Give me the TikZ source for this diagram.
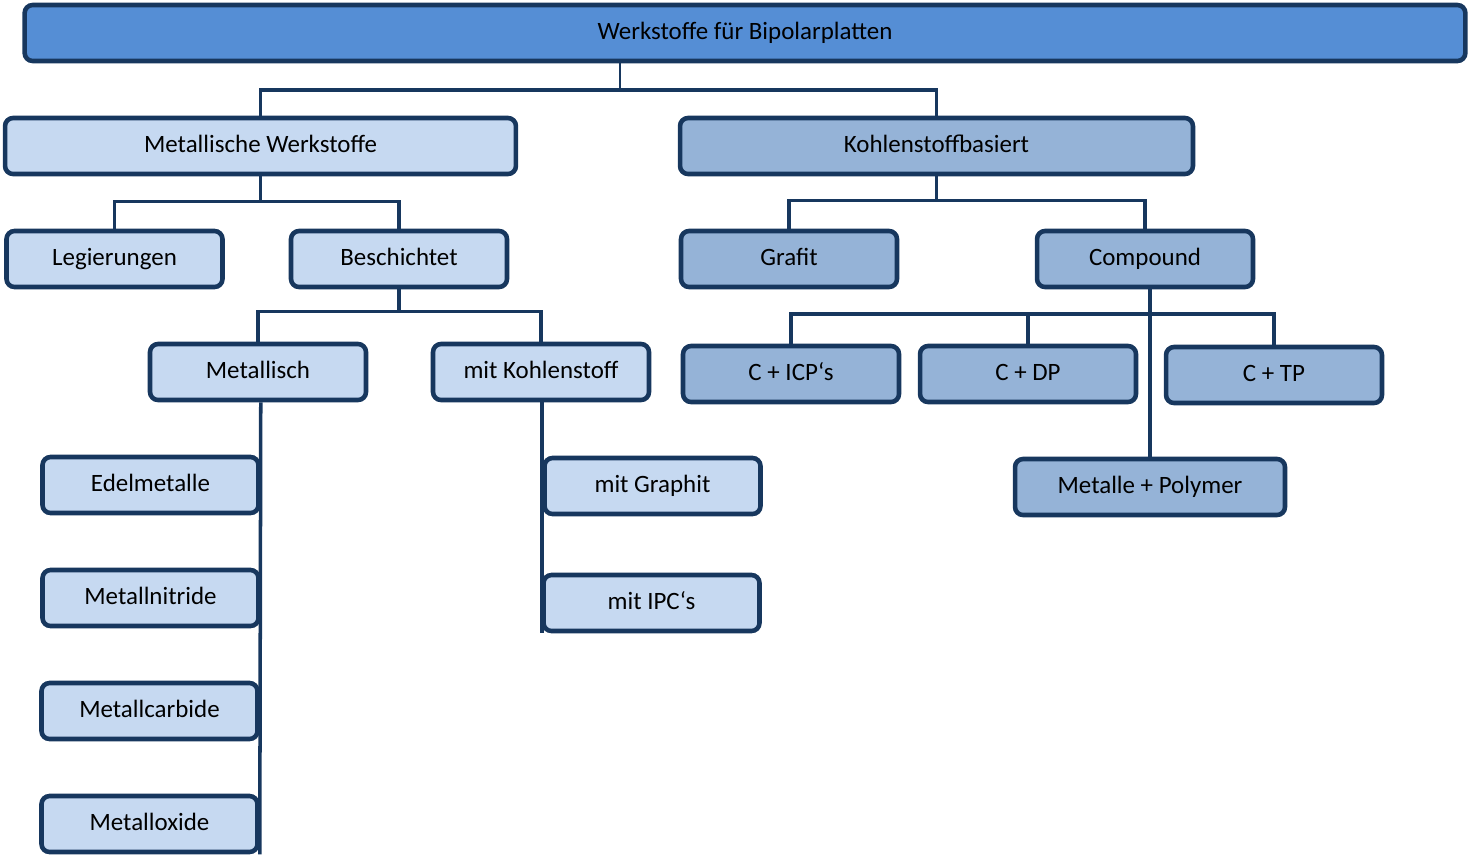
\documentclass[tikz,border=0pt]{standalone}
\usepackage{fontspec}
\setmainfont{Carlito}
\definecolor{rand}{HTML}{17375E}
\definecolor{oben}{HTML}{558ED5}
\definecolor{hell}{HTML}{C6D9F1}
\definecolor{mittel}{HTML}{95B3D7}
\tikzset{
  kasten/.style={draw=rand, line width=2.6pt, rounded corners=0.16cm, minimum width=4.32cm, minimum height=1.12cm, inner sep=0pt, text height=2ex, text depth=0.5ex, font=\fontsize{14.2}{16}\selectfont},
  metall/.style={kasten, fill=hell},
  kohle/.style={kasten, fill=mittel},
  linie/.style={draw=rand, line width=2pt},
}
\begin{document}
\begin{tikzpicture}[x=0.02cm,y=-0.02cm]
\useasboundingbox (0,0) rectangle (1469,856);
\node[kasten, fill=oben, minimum width=28.82cm] (top) at (745,33) {Werkstoffe für Bipolarplatten};
\node[metall, minimum width=10.22cm] (mw) at (260.5,146) {Metallische Werkstoffe};
\node[kohle, minimum width=10.26cm] (kb) at (936.5,146) {Kohlenstoffbasiert};
\node[metall] (leg) at (114.5,259) {Legierungen};
\node[metall] (besch) at (399,259) {Beschichtet};
\node[kohle] (grafit) at (789,259) {Grafit};
\node[kohle] (comp) at (1145,259) {Compound};
\node[metall] (metallisch) at (258,372) {Metallisch};
\node[metall] (mk) at (541,372) {mit Kohlenstoff};
\node[kohle] (cicp) at (791,374) {C + ICP‘s};
\node[kohle] (cdp) at (1028,374) {C + DP};
\node[kohle] (ctp) at (1274,375) {C + TP};
\node[metall] (edel) at (150.5,485) {Edelmetalle};
\node[metall] (nitr) at (150.5,598) {Metallnitride};
\node[metall] (carb) at (149.5,711) {Metallcarbide};
\node[metall] (oxid) at (149.5,824) {Metalloxide};
\node[metall] (mgraph) at (652.5,486) {mit Graphit};
\node[metall] (mipc) at (651.5,603) {mit IPC‘s};
\node[kohle, minimum width=5.4cm] (mp) at (1150,487) {Metalle + Polymer};

\coordinate (obus) at (620,90);
\draw[linie, line width=1.3pt] (top.south -| obus) -- (obus);
\draw[linie] (mw.north) |- (obus) -| (kb.north);
\draw[linie] (mw.south) -- ++(0,26);
\draw[linie] (leg.north) -- ++(0,-27) -| (besch.north);
\draw[linie] (kb.south) -- ++(0,25);
\draw[linie] (grafit.north) -- ++(0,-28) -| (comp.north);
\draw[linie] (besch.south) -- ++(0,23);
\draw[linie] (metallisch.north) -- ++(0,-30) -| (mk.north);
\coordinate (cbus) at (0,314);
\draw[linie] (mp.north) -- (mp.north |- comp.south);
\draw[linie] (cicp.north) |- (ctp.north |- cbus) -- (ctp.north);
\draw[linie] (cdp.north) -- (cdp.north |- cbus);
\draw[linie] (metallisch.south -| edel.east) -- (oxid.east |- oxid.south);
\draw[linie] (mk.south -| mgraph.west) -- (mipc.south -| mgraph.west);
\end{tikzpicture}
\end{document}
